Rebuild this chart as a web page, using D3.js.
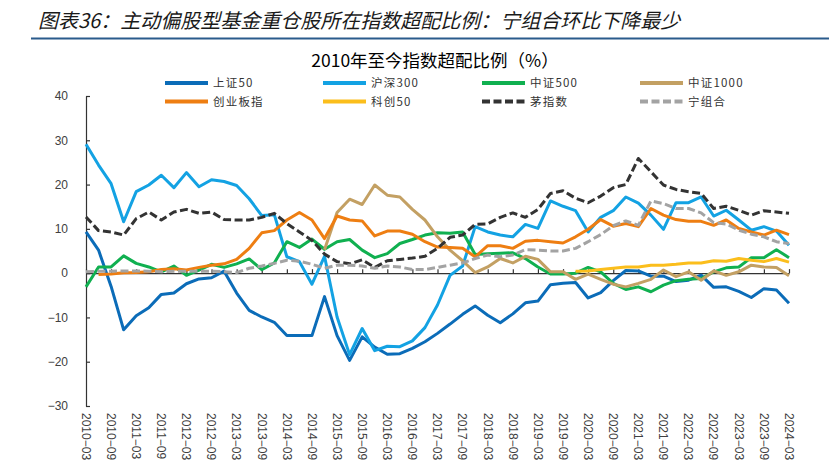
<!DOCTYPE html>
<html><head><meta charset="utf-8">
<script src="https://cdn.jsdelivr.net/npm/d3@7"></script>
<style>
html,body{margin:0;padding:0;background:#fff;}
svg{display:block;}
</style></head>
<body>
<svg id="chart" width="829" height="469"></svg>
<script>
const dates = ["2010-03","2010-06","2010-09","2010-12","2011-03","2011-06","2011-09","2011-12",
"2012-03","2012-06","2012-09","2012-12","2013-03","2013-06","2013-09","2013-12",
"2014-03","2014-06","2014-09","2014-12","2015-03","2015-06","2015-09","2015-12",
"2016-03","2016-06","2016-09","2016-12","2017-03","2017-06","2017-09","2017-12",
"2018-03","2018-06","2018-09","2018-12","2019-03","2019-06","2019-09","2019-12",
"2020-03","2020-06","2020-09","2020-12","2021-03","2021-06","2021-09","2021-12",
"2022-03","2022-06","2022-09","2022-12","2023-03","2023-06","2023-09","2023-12","2024-03"];

const sz50 = [9.3,5.2,-3.0,-12.8,-9.6,-7.8,-4.8,-4.5,-2.4,-1.3,-1.05,0.45,-4.5,-8.4,-9.9,-11.1,
-14.1,-14.1,-14.1,-5.3,-14.1,-19.7,-14.4,-16.7,-18.3,-18.2,-17.0,-15.5,-13.6,-11.5,-9.3,-7.4,
-9.5,-11.2,-9.2,-6.7,-6.3,-2.6,-2.3,-2.1,-5.6,-4.4,-1.7,0.6,0.5,-0.7,-0.7,-1.9,
-1.6,-0.45,-3.2,-3.1,-4.1,-5.5,-3.5,-3.8,-6.8];

const hs300 = [29.1,24.4,20.2,11.6,18.4,19.9,22.1,19.3,22.7,19.5,21.1,20.7,19.8,16.8,13.0,13.2,
3.7,2.6,-2.5,3.8,-9.9,-18.4,-12.5,-17.5,-16.5,-16.6,-15.3,-12.3,-7.2,-0.5,1.6,10.5,
9.3,8.6,8.2,11.0,10.1,16.3,15.1,14.1,9.3,12.6,14.1,17.2,15.8,13.1,9.9,15.9,
15.9,17.2,12.9,14.2,12.0,9.7,10.5,9.5,6.3];

const zz500 = [-3.1,1.4,1.4,3.9,2.2,1.4,0.3,1.6,-0.5,0.7,2.0,1.3,2.1,3.2,0.8,2.3,
7.1,5.8,7.7,5.4,7.1,7.6,5.2,3.5,4.4,6.7,7.6,8.6,9.1,9.0,9.3,4.2,
4.4,4.5,4.6,3.3,1.4,-0.2,-0.2,0.0,1.3,0.3,-2.3,-3.7,-3.1,-4.2,-2.7,-1.7,
-1.4,-1.2,0.3,1.2,1.4,3.5,3.5,5.3,3.5];

const zz1000 = [null,null,null,null,null,null,null,null,null,null,null,null,null,null,null,null,
null,null,null,5.3,13.7,16.7,15.5,19.9,17.6,17.2,14.4,12.0,8.2,5.2,2.8,0.1,
1.4,3.3,2.3,3.8,3.1,0.3,0.3,-1.4,-0.2,-1.4,-2.5,-3.1,-2.3,-1.4,0.7,-0.8,
0.3,-1.6,0.5,-0.5,0.3,1.8,1.4,1.3,-0.6];

const cyb = [null,-0.3,-0.2,0.1,0.15,0.3,0.8,1.0,0.7,1.3,1.8,2.1,3.1,5.6,9.1,9.6,
12.0,13.7,12.0,7.8,12.9,12.0,11.8,8.4,9.5,9.5,8.8,7.1,5.9,5.8,5.6,3.7,
6.2,6.2,5.6,7.2,7.4,7.1,6.8,8.2,9.9,12.1,10.6,11.2,10.5,14.6,13.1,12.1,
11.7,11.7,10.8,12.0,10.1,9.3,8.6,9.7,8.7];

const kc50 = [null,null,null,null,null,null,null,null,null,null,null,null,null,null,null,null,
null,null,null,null,null,null,null,null,null,null,null,null,null,null,null,null,
null,null,null,null,null,null,null,0.4,0.5,0.8,1.1,1.4,1.4,1.8,1.8,2.0,
2.3,2.3,2.8,2.7,3.3,2.9,2.6,3.3,2.5];

const mao = [12.7,9.6,9.3,8.6,12.3,13.8,12.0,13.8,14.4,13.5,13.8,12.1,12.0,12.0,12.6,13.5,
11.2,9.3,7.4,4.3,2.6,2.1,3.0,1.3,2.8,3.1,3.4,3.8,5.6,8.1,8.6,11.0,
11.1,12.6,13.6,12.6,14.4,18.0,18.6,16.9,15.9,17.4,19.3,20.0,25.9,22.9,19.9,18.9,
18.4,18.0,14.6,15.1,14.2,13.1,14.1,13.8,13.5];

const ning = [0.3,0.45,0.45,0.5,0.5,0.45,0.3,0.45,0.45,0.45,0.45,0.3,0.1,1.1,1.6,2.2,
2.9,2.7,2.0,1.1,1.8,1.8,1.6,1.1,1.6,1.4,0.8,0.8,1.3,1.8,2.3,3.3,
4.1,3.7,4.1,5.3,5.2,5.0,5.0,5.6,7.1,8.7,10.7,11.8,10.8,16.3,15.7,14.6,
14.6,13.6,11.4,11.1,9.7,8.8,8.2,7.1,6.7];

const seriesNames = ["上证50","沪深300","中证500","中证1000","创业板指","科创50","茅指数","宁组合"];
const seriesValues = [sz50, hs300, zz500, zz1000, cyb, kc50, mao, ning];
const seriesColors = ["#0B6CB8","#13A2E3","#10B050","#C3A063","#EE7E12","#FBBE1C","#333333","#A3A3A3"];
const seriesDash = [null,null,null,null,null,null,"8,3.5","8,3.5"];
const yTicks = [-30,-20,-10,0,10,20,30,40];

const svg = d3.select("#chart");
const FONT_CJK = "'Noto Sans CJK SC','Noto Sans',sans-serif";
const FONT_NUM = "'Liberation Sans',Arial,sans-serif";

// Header
svg.append("text").attr("x",38).attr("y",28)
  .attr("font-family",FONT_CJK).attr("font-size",20).attr("font-style","italic")
  .attr("fill","#1a1a1a")
  .text("图表36：主动偏股型基金重仓股所在指数超配比例：宁组合环比下降最少");
svg.append("rect").attr("x",31).attr("y",37.5).attr("width",798).attr("height",2).attr("fill","#2a5b8c");

svg.append("text").attr("x",435).attr("y",67).attr("text-anchor","middle")
  .attr("font-family",FONT_CJK).attr("font-size",17.5).attr("fill","#000")
  .text("2010年至今指数超配比例（%）");

// Scales
const x = d3.scalePoint().domain(dates).range([86, 789]);
const y = d3.scaleLinear().domain([-30, 40]).range([406, 96]);

// Y axis
const yAxis = svg.append("g").attr("transform","translate(86,0)")
  .call(d3.axisLeft(y).tickValues(yTicks).tickSizeInner(-4).tickSizeOuter(0).tickPadding(18)
    .tickFormat(d => d < 0 ? "−" + Math.abs(d) : String(d)));
yAxis.select(".domain").attr("stroke","#333").attr("stroke-width",1.2);
yAxis.selectAll(".tick line").attr("stroke","#333").attr("stroke-width",1.2);
yAxis.selectAll(".tick text").attr("font-family",FONT_NUM).attr("font-size",12).attr("fill","#404040");

// X axis at zero
const xTickVals = dates.filter((d,i) => i % 2 === 0);
const xAxis = svg.append("g").attr("transform",`translate(0,${y(0)})`)
  .call(d3.axisBottom(x).tickValues(xTickVals).tickSizeInner(-4).tickSizeOuter(0).tickFormat(""));
xAxis.select(".domain").attr("stroke","#333").attr("stroke-width",1.2);
xAxis.selectAll(".tick line").attr("stroke","#333").attr("stroke-width",1.2);

// X labels rotated
svg.append("g").selectAll("text").data(xTickVals).join("text")
  .attr("transform", d => `translate(${x(d)},413) rotate(90)`)
  .attr("dy","0.35em")
  .attr("font-family",FONT_NUM).attr("font-size",12).attr("fill","#404040")
  .text(d => d.replace("-","−"));

// Lines
const line = d3.line()
  .defined(d => d.v !== null)
  .x(d => x(d.date))
  .y(d => y(d.v));

const lg = svg.append("g");
seriesValues.forEach((vals, si) => {
  const data = vals.map((v,i) => ({date: dates[i], v}));
  const p = lg.append("path").datum(data)
    .attr("d", line).attr("fill","none")
    .attr("stroke", seriesColors[si]).attr("stroke-width", 3)
    .attr("stroke-linejoin","round");
  if (seriesDash[si]) p.attr("stroke-dasharray", seriesDash[si]);
});

// Legend
const legCols = [165, 323, 482, 640];
const legRows = [83, 101.5];
const leg = svg.append("g");
seriesNames.forEach((name, si) => {
  const cx = legCols[si % 4], cy = legRows[Math.floor(si / 4)];
  const g = leg.append("g");
  g.append("line").attr("x1",cx).attr("x2",cx+43).attr("y1",cy).attr("y2",cy)
    .attr("stroke",seriesColors[si]).attr("stroke-width",4)
    .attr("stroke-dasharray", seriesDash[si] ? "8,3.5" : null);
  g.append("text").attr("x",cx+48).attr("y",cy).attr("dy","0.35em")
    .attr("font-family",FONT_CJK).attr("font-size",11.5).attr("letter-spacing",1.2)
    .attr("fill","#333").text(name);
});
</script>
</body></html>
